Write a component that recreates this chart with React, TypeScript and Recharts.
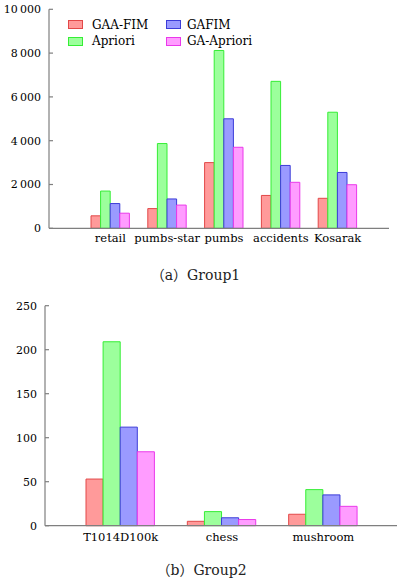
import React from "react"
import { BarChart, Bar, XAxis, YAxis, Legend } from "recharts"

// Group1 datasets
const group1Names = ["retail", "pumbs-star", "pumbs", "accidents", "Kosarak"]
const group1GaaFim = [570, 900, 3000, 1500, 1370]
const group1Apriori = [1700, 3870, 8120, 6710, 5300]
const group1Gafim = [1130, 1340, 5000, 2870, 2550]
const group1GaApriori = [690, 1060, 3700, 2100, 1990]
const group1Ticks = [0, 2000, 4000, 6000, 8000, 10000]

// Group2 datasets
const group2Names = ["T1014D100k", "chess", "mushroom"]
const group2GaaFim = [53, 5, 13]
const group2Apriori = [209, 16, 41]
const group2Gafim = [112, 9, 35]
const group2GaApriori = [84, 7, 22]
const group2Ticks = [0, 50, 100, 150, 200, 250]

const series = [
  { key: "gaaFim", name: "GAA-FIM", fill: "#ff9a9a", stroke: "#e24848" },
  { key: "apriori", name: "Apriori", fill: "#9cff9c", stroke: "#35ee35" },
  { key: "gafim", name: "GAFIM", fill: "#9a9aff", stroke: "#3c3cd8" },
  { key: "gaApriori", name: "GA-Apriori", fill: "#ff9cff", stroke: "#ea38ea" },
]

const FONT = "DejaVu Serif"
const CJK = "Noto Sans CJK SC, sans-serif"
const AXIS = "#7f7f7f"

function buildRows(names: string[], a: number[], b: number[], c: number[], d: number[]) {
  return names.map((name, i) => ({ name, gaaFim: a[i], apriori: b[i], gafim: c[i], gaApriori: d[i] }))
}

const group1Data = buildRows(group1Names, group1GaaFim, group1Apriori, group1Gafim, group1GaApriori)
const group2Data = buildRows(group2Names, group2GaaFim, group2Apriori, group2Gafim, group2GaApriori)

const thinSpace = (v: number) => String(v).replace(/\B(?=(\d{3})+(?!\d))/g, "\u2009")

function LegendGrid({ col2, textGap1, textGap2, rowGap }: { col2: number; textGap1: number; textGap2: number; rowGap: number }) {
  const cols = [
    [series[0], series[1]],
    [series[2], series[3]],
  ]
  return (
    <div style={{ position: "relative", width: "100%", height: "100%", fontFamily: FONT, fontSize: 12 }}>
      {cols.map((col, ci) =>
        col.map((s, ri) => (
          <div
            key={s.key}
            style={{
              position: "absolute",
              left: ci === 0 ? 0 : col2,
              top: ri * rowGap,
              display: "flex",
              alignItems: "center",
              height: 8,
              whiteSpace: "nowrap",
            }}
          >
            <span
              style={{
                display: "inline-block",
                width: 13,
                height: 7,
                background: s.fill,
                border: `1px solid ${s.stroke}`,
              }}
            />
            <span style={{ marginLeft: (ci === 0 ? textGap1 : textGap2) - 15, color: "#000", fontFamily: FONT }}>
              {s.name}
            </span>
          </div>
        ))
      )}
    </div>
  )
}

interface GroupChartProps {
  data: any[]
  ticks: number[]
  top: number
  width: number
  marginTop: number
  marginRight: number
  marginBottom: number
  yWidth: number
  xHeight: number
  padLeft: number
  padRight: number
  barSize: number
  topTickShift: number
  labelGap: number
  catGap: number
  format: (v: number) => string
  legend: { left: number; top: number; col2: number; textGap1: number; textGap2: number; rowGap: number }
}

function GroupChart(p: GroupChartProps) {
  const max = p.ticks[p.ticks.length - 1]
  const axisX = p.yWidth
  const leftTick = (props: any) => {
    const { y, payload } = props
    return (
      <g>
        <line x1={axisX} x2={axisX + 4} y1={y} y2={y} stroke={AXIS} strokeWidth={1.2} />
        <text
          x={axisX - p.labelGap}
          y={y}
          dy="0.35em"
          textAnchor="end"
          style={{ fontFamily: FONT, fontSize: 11 }}
          fill="#000"
        >
          {p.format(payload.value)}
        </text>
      </g>
    )
  }
  const rightTick = (props: any) => {
    const { x, y } = props
    return <line x1={x - 4} x2={x} y1={y} y2={y} stroke={AXIS} strokeWidth={1.2} />
  }
  const topTick = (props: any) => {
    const { x, y } = props
    return <line x1={x + p.topTickShift} x2={x + p.topTickShift} y1={y} y2={y + 4} stroke={AXIS} strokeWidth={1.2} />
  }
  const bottomTick = (props: any) => {
    const { x, y, payload } = props
    return (
      <text x={x} y={y} dy="0.71em" textAnchor="middle" style={{ fontFamily: FONT, fontSize: 11.5 }} fill="#000">
        {payload.value}
      </text>
    )
  }
  return (
    <div style={{ position: "absolute", left: 0, top: p.top }}>
      <BarChart
        width={p.width}
        height={260}
        data={p.data}
        barGap={0}
        margin={{ top: p.marginTop, right: p.marginRight, bottom: p.marginBottom, left: 0 }}
      >
        <XAxis
          dataKey="name"
          height={p.xHeight}
          interval={0}
          padding={{ left: p.padLeft, right: p.padRight }}
          tickLine={false}
          tickSize={0}
          tickMargin={p.catGap}
          axisLine={{ stroke: AXIS, strokeWidth: 1.2 }}
          tick={bottomTick}
        />
        <XAxis
          xAxisId="top"
          orientation="top"
          dataKey="name"
          height={0}
          interval={0}
          padding={{ left: p.padLeft, right: p.padRight }}
          tickLine={false}
          tickSize={0}
          tickMargin={0}
          axisLine={{ stroke: AXIS, strokeWidth: 1.2 }}
          tick={topTick}
        />
        <YAxis
          width={p.yWidth}
          domain={[0, max]}
          ticks={p.ticks}
          interval={0}
          tickLine={false}
          tickSize={0}
          tickMargin={0}
          axisLine={{ stroke: AXIS, strokeWidth: 1.2 }}
          tick={leftTick}
        />
        <YAxis
          yAxisId="right"
          orientation="right"
          width={0}
          domain={[0, max]}
          ticks={p.ticks}
          interval={0}
          tickLine={false}
          tickSize={0}
          tickMargin={0}
          axisLine={{ stroke: AXIS, strokeWidth: 1.2 }}
          tick={rightTick}
        />
        <Legend
          layout="vertical"
          align="center"
          verticalAlign="middle"
          wrapperStyle={{ left: p.legend.left, top: p.legend.top, width: 200, height: 30 }}
          content={() => (
            <LegendGrid
              col2={p.legend.col2}
              textGap1={p.legend.textGap1}
              textGap2={p.legend.textGap2}
              rowGap={p.legend.rowGap}
            />
          )}
        />
        {series.map((s) => (
          <Bar
            key={s.key}
            dataKey={s.key}
            name={s.name}
            fill={s.fill}
            stroke={s.stroke}
            strokeWidth={1}
            barSize={p.barSize}
            isAnimationActive={false}
          />
        ))}
      </BarChart>
    </div>
  )
}

const captionStyle: React.CSSProperties = {
  position: "absolute",
  left: 0,
  width: 397,
  textAlign: "center",
  fontFamily: FONT,
  fontSize: 14,
  color: "#222",
  lineHeight: "16px",
  whiteSpace: "nowrap",
}

function Caption({ letter, label, top, left }: { letter: string; label: string; top: number; left: number }) {
  return (
    <div style={{ ...captionStyle, top, left }}>
      <span style={{ fontFamily: CJK, fontSize: 14 }}>（</span>
      {letter}
      <span style={{ fontFamily: CJK, fontSize: 14 }}>）</span>
      {label}
    </div>
  )
}

export default function App() {
  return (
    <div
      style={{
        position: "absolute",
        left: 0,
        top: 0,
        width: 397,
        height: 581,
        overflow: "hidden",
        background: "#fff",
      }}
    >
      <GroupChart
        data={group1Data}
        ticks={group1Ticks}
        top={0}
        width={397}
        marginTop={9.3}
        marginRight={8}
        marginBottom={1.7}
        yWidth={49}
        xHeight={30}
        padLeft={33}
        padRight={23}
        barSize={9.6}
        topTickShift={-4.3}
        labelGap={8}
        catGap={6}
        format={thinSpace}
        legend={{ left: 68, top: 20.7, col2: 98, textGap1: 24, textGap2: 21, rowGap: 16.6 }}
      />
      <Caption letter="a" label="Group1" top={266} left={-3} />
      <GroupChart
        data={group2Data}
        ticks={group2Ticks}
        top={290}
        width={400}
        marginTop={15.7}
        marginRight={2}
        marginBottom={0.3}
        yWidth={45}
        xHeight={24}
        padLeft={25}
        padRight={24}
        barSize={17.1}
        topTickShift={-25}
        labelGap={8}
        catGap={7}
        format={(v) => String(v)}
        legend={{ left: 202, top: 318, col2: 98, textGap1: 23, textGap2: 19, rowGap: 16 }}
      />
      <Caption letter="b" label="Group2" top={561} left={3} />
    </div>
  )
}
